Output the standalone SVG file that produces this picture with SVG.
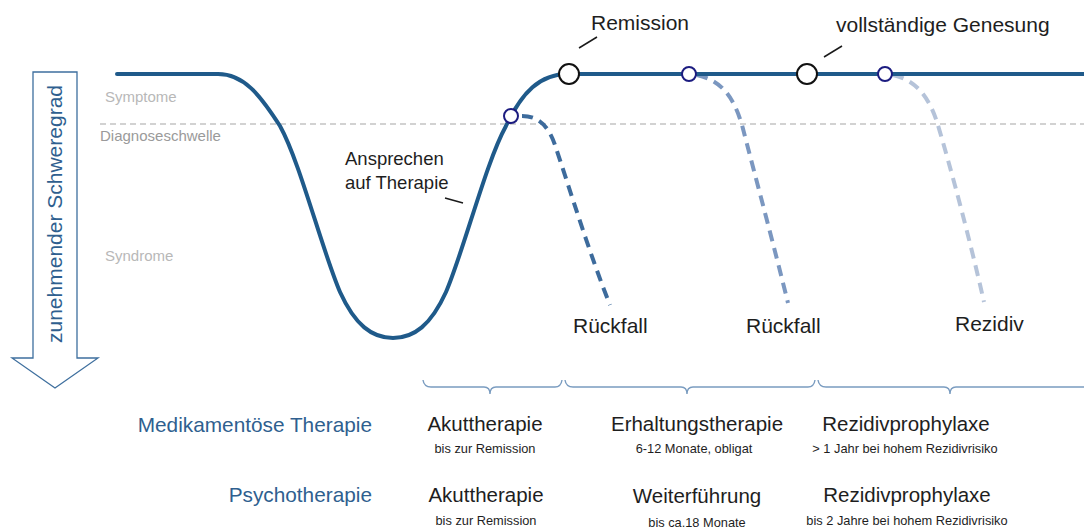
<svg xmlns="http://www.w3.org/2000/svg" width="1084" height="530" viewBox="0 0 1084 530">
  <style>
    text { font-family: "Liberation Sans", Arial, sans-serif; }
    .axis { fill: #b8b8b8; font-size: 15px; }
    .thr { fill: #9a9a9a; font-size: 15px; }
    .lbl { fill: #1e1e1e; font-size: 21px; }
    .resp { fill: #1e1e1e; font-size: 18.5px; }
    .head { fill: #2f5f8f; font-size: 20.8px; text-anchor: end; }
    .phase { fill: #1e1e1e; font-size: 20.5px; text-anchor: middle; }
    .sub { fill: #1e1e1e; font-size: 12.8px; text-anchor: middle; }
    .course { fill: none; stroke: #1f5a8a; stroke-width: 4; stroke-linecap: round; }
    .relapse { fill: none; stroke-width: 4; stroke-dasharray: 11 7; }
    .brace { fill: none; stroke: #7a9cc0; stroke-width: 1.4; }
    .lead { stroke: #1a1a1a; stroke-width: 1.5; }
    .big { fill: #fff; stroke: #111; stroke-width: 2; }
    .small { fill: #fff; stroke: #1c1c80; stroke-width: 2; }
  </style>

  <rect width="1084" height="530" fill="#fff"/>

  <!-- severity arrow -->
  <g id="severity-arrow">
    <path d="M33,72 H77 V358 H98 L55,388 L12,358 H33 Z" fill="#fff" stroke="#3e6f9e" stroke-width="1.3"/>
    <text transform="translate(62,214) rotate(-90)" text-anchor="middle" font-size="21" fill="#2f5f8f">zunehmender Schweregrad</text>
  </g>

  <!-- axis labels -->
  <g id="levels">
    <text class="axis" x="105" y="102">Symptome</text>
    <text class="thr" x="100" y="141">Diagnoseschwelle</text>
    <text class="axis" x="105" y="261">Syndrome</text>
  </g>

  <!-- diagnostic threshold -->
  <line id="threshold" x1="100" y1="124" x2="1084" y2="124" stroke="#c4c4c4" stroke-width="1.5" stroke-dasharray="6 4"/>

  <g id="connectors">
    <!-- relapse courses -->
    <path class="relapse" stroke="#3d6b9c" d="M522,116 C538,116 548,125 555,145 C570,190 590,255 610,305"/>
    <path class="relapse" stroke="#7b97c0" d="M697,75 C720,80 733,95 742,125 C755,175 775,250 788,303"/>
    <path class="relapse" stroke="#b5c3d9" d="M893,75 C915,80 928,95 937,122 C950,165 970,240 984,302"/>
    <!-- main course -->
    <path class="course" d="M117,74 L218,74 C244,74 260,95 280,126 C300,162 322,250 340,292 C355,325 372,338 393,338 C414,338 431,325 446,292 C464,250 486,162 506,126 C522,92 540,74 568,74 L1084,74"/>
    <!-- leader lines -->
    <line class="lead" x1="579" y1="48" x2="597" y2="37"/>
    <line class="lead" x1="824" y1="57" x2="842" y2="46"/>
    <line class="lead" x1="445" y1="198" x2="463" y2="203"/>
  </g>

  <!-- markers on the course -->
  <g id="remission"><circle class="big" cx="569" cy="74" r="10"/><text class="lbl" x="591" y="30">Remission</text></g>
  <g id="recovery"><circle class="big" cx="807" cy="74" r="10"/><text class="lbl" x="836" y="32">vollständige Genesung</text></g>
  <g id="point-1"><circle class="small" cx="511" cy="116" r="7"/></g>
  <g id="point-2"><circle class="small" cx="689" cy="74" r="7"/></g>
  <g id="point-3"><circle class="small" cx="885" cy="74" r="7"/></g>

  <g id="response"><text class="resp" x="345" y="165">Ansprechen</text><text class="resp" x="345" y="189">auf Therapie</text></g>
  <g id="relapse-1"><text class="lbl" x="573" y="333">Rückfall</text></g>
  <g id="relapse-2"><text class="lbl" x="746" y="333">Rückfall</text></g>
  <g id="recurrence"><text class="lbl" x="955" y="331">Rezidiv</text></g>

  <!-- phase braces -->
  <g id="braces">
    <path class="brace" d="M423,380 Q424,387 431,387 H484 Q490,387 490,394 Q490,387 496,387 H555 Q561,387 562,380"/>
    <path class="brace" d="M565,380 Q566,387 573,387 H681 Q687,387 687,394 Q687,387 693,387 H808 Q814,387 815,380"/>
    <path class="brace" d="M818,380 Q819,387 826,387 H944 Q950,387 950,394 Q950,387 956,387 H1084"/>
  </g>

  <!-- therapy rows -->
  <g id="row-medication">
    <text class="head" x="372" y="432">Medikamentöse Therapie</text>
    <text class="phase" x="485" y="431">Akuttherapie</text>
    <text class="sub" x="485" y="453">bis zur Remission</text>
    <text class="phase" x="697" y="431">Erhaltungstherapie</text>
    <text class="sub" x="694" y="453">6-12 Monate, obligat</text>
    <text class="phase" x="906" y="431">Rezidivprophylaxe</text>
    <text class="sub" x="905" y="453">&gt; 1 Jahr bei hohem Rezidivrisiko</text>
  </g>
  <g id="row-psychotherapy">
    <text class="head" x="372" y="502">Psychotherapie</text>
    <text class="phase" x="486" y="502">Akuttherapie</text>
    <text class="sub" x="486" y="525">bis zur Remission</text>
    <text class="phase" x="697" y="503">Weiterführung</text>
    <text class="sub" x="697" y="527">bis ca.18 Monate</text>
    <text class="phase" x="907" y="502">Rezidivprophylaxe</text>
    <text class="sub" x="907" y="525">bis 2 Jahre bei hohem Rezidivrisiko</text>
  </g>
</svg>
